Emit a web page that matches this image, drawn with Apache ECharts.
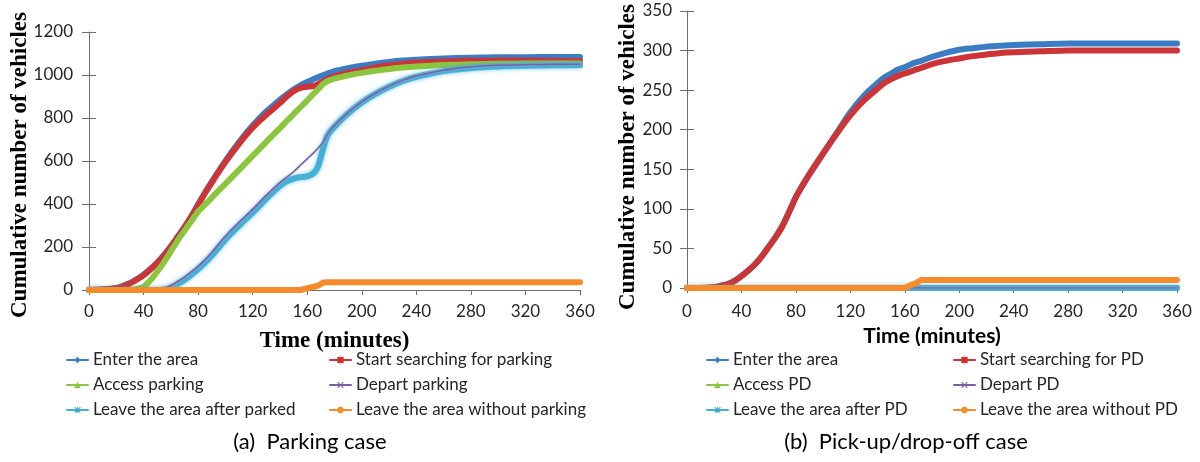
<!DOCTYPE html>
<html>
<head>
<meta charset="utf-8">
<script src="https://cdn.jsdelivr.net/npm/echarts@6/dist/echarts.min.js"></script>
<style>
  html, body { margin: 0; padding: 0; background: #fff; }
  #main { width: 1200px; height: 462px; }
</style>
</head>
<body>
<div id="main"></div>
<script>
// time samples (minutes) shared by most series
var times = [0, 10, 20, 25, 30, 35, 40, 45, 50, 55, 60, 65, 70, 75, 80, 85, 90, 100, 110, 120, 130, 140, 145, 150, 155, 160, 165, 168, 170, 172, 175, 180, 190, 200, 210, 220, 230, 240, 260, 280, 300, 320, 340, 360];
var xTicks = [0, 40, 80, 120, 160, 200, 240, 280, 320, 360];

// (a) parking case
var parkNames = ['Enter the area', 'Start searching for parking', 'Access parking', 'Depart parking', 'Leave the area after parked', 'Leave the area without parking'];
var parkEnter = [0, 3, 10, 20, 33, 50, 72, 98, 128, 163, 203, 248, 293, 343, 398, 452, 503, 600, 688, 765, 830, 885, 910, 933, 952, 968, 982, 990, 995, 1000, 1007, 1018, 1032, 1043, 1053, 1061, 1067, 1071, 1077, 1080, 1082, 1083, 1084, 1084];
var parkSearch = [0, 2, 8, 18, 30, 48, 68, 95, 125, 160, 200, 245, 290, 340, 395, 450, 500, 595, 680, 755, 815, 870, 900, 925, 940, 945, 950, 958, 965, 972, 982, 995, 1010, 1022, 1035, 1045, 1052, 1058, 1063, 1066, 1067, 1067, 1066, 1065];
var parkAccess = [0, 0, 0, 0, 0, 5, 15, 45, 85, 130, 180, 230, 275, 320, 365, 397, 430, 494, 559, 624, 689, 753, 786, 818, 850, 882, 915, 934, 947, 960, 972, 983, 998, 1010, 1020, 1028, 1035, 1040, 1046, 1050, 1052, 1053, 1054, 1054];
var parkDepart = [0, 0, 0, 0, 0, 0, 0, 0, 3, 8, 20, 40, 60, 85, 110, 140, 175, 250, 315, 375, 440, 500, 525, 550, 580, 610, 640, 660, 675, 690, 725, 765, 825, 875, 915, 948, 975, 995, 1022, 1038, 1045, 1048, 1050, 1050];
var parkLeaveAfter = [0, 0, 0, 0, 0, 0, 0, 0, 0, 3, 12, 28, 48, 72, 98, 128, 160, 235, 300, 360, 425, 485, 505, 518, 525, 528, 545, 575, 620, 665, 720, 760, 822, 872, 912, 945, 972, 992, 1018, 1033, 1040, 1043, 1045, 1046];
var parkLeaveWithout = [0, 0, 0, 0, 0, 0, 0, 0, 0, 0, 0, 0, 0, 0, 0, 0, 0, 0, 0, 0, 0, 0, 0, 0, 0, 8, 15, 20, 28, 35, 36, 36, 36, 36, 36, 36, 36, 36, 36, 36, 36, 36, 36, 36];

// (b) pick-up/drop-off case
var pdNames = ['Enter the area', 'Start searching for PD', 'Access PD', 'Depart PD', 'Leave the area after PD', 'Leave the area without PD'];
var pdEnter = [0, 0, 1, 3, 5, 9, 15, 22, 30, 40, 52, 64, 78, 96, 115, 130, 144, 170, 196, 222, 243, 259, 266, 271, 276, 279, 283, 285, 286, 287, 289, 292, 297, 301, 303, 305, 306, 307, 308, 309, 309, 309, 309, 309];
var pdSearch = [0, 0, 1, 3, 5, 9, 15, 22, 30, 40, 52, 64, 78, 96, 115, 130, 144, 170, 195, 218, 237, 252, 259, 264, 268, 271, 274, 276, 277, 278, 280, 283, 287, 290, 293, 295, 297, 298, 299, 300, 300, 300, 300, 300];
var pdLeaveWithout = [0, 0, 0, 0, 0, 0, 0, 0, 0, 0, 0, 0, 0, 0, 0, 0, 0, 0, 0, 0, 0, 0, 0, 0, 0, 0, 4, 6, 8, 10, 10, 10, 10, 10, 10, 10, 10, 10, 10, 10, 10, 10, 10, 10];
var flatTimes = [0, 360];
var pdAccess = [0, 0];
var pdDepart = [0, 0];
var pdLeaveAfter = [0, 0];

var colors = ['#3b7dc4', '#cc3438', '#8cc63f', '#7b5fa5', '#3aa9cf', '#f68b2c'];
var xMark = 'path://M0,1L1,0L5,4L9,0L10,1L6,5L10,9L9,10L5,6L1,10L0,9L4,5Z';
var starMark = 'path://M0,1L1,0L5,4L9,0L10,1L6,5L10,9L9,10L5,6L1,10L0,9L4,5Z M4.4,0L5.6,0L5.6,10L4.4,10Z M0,4.4L10,4.4L10,5.6L0,5.6Z';
var symbols = ['diamond', 'rect', 'triangle', xMark, starMark, 'circle'];

function pairs(xs, ys) {
  var out = [];
  for (var i = 0; i < xs.length; i++) out.push([xs[i], ys[i]]);
  return out;
}

function makeSeries(idx, name, k, xs, ys) {
  var s = {
    name: name,
    type: 'line',
    xAxisIndex: idx,
    yAxisIndex: idx * 2,
    data: pairs(xs, ys),
    symbol: symbols[k],
    symbolSize: 7,
    showSymbol: false,
    smooth: 0.25,
    z: 2,
    itemStyle: { color: colors[k] },
    lineStyle: { color: colors[k], width: 6, cap: 'round', join: 'round' }
  };
  if (k === 3) {
    s.z = 3;
    s.lineStyle.width = 1.5;
    s.lineStyle.shadowColor = 'rgba(175,160,215,0.8)';
    s.lineStyle.shadowBlur = 2;
  }
  if (k === 4) {
    s.lineStyle.width = 6;
    s.lineStyle.color = '#45b0d6';
    s.lineStyle.shadowColor = 'rgba(58,169,207,0.7)';
    s.lineStyle.shadowBlur = 4;
  }
  if (k === 5) { s.smooth = false; s.z = 4; }
  return s;
}

var series = [];
var parkData = [parkEnter, parkSearch, parkAccess, parkDepart, parkLeaveAfter, parkLeaveWithout];
for (var k = 0; k < 6; k++) series.push(makeSeries(0, parkNames[k], k, times, parkData[k]));
var pdData = [pdEnter, pdSearch, pdAccess, pdDepart, pdLeaveAfter, pdLeaveWithout];
var pdX = [times, times, flatTimes, flatTimes, flatTimes, times];
for (var k = 0; k < 6; k++) series.push(makeSeries(1, pdNames[k], k, pdX[k], pdData[k]));

var axisGray = '#6f6f6f';

function xAxisFor(idx, nameFont, nameGap, margin) {
  return {
    type: 'value', gridIndex: idx, min: 0, max: 360, interval: 40,
    name: 'Time (minutes)', nameLocation: 'middle', nameGap: nameGap,
    nameTextStyle: nameFont,
    axisLine: { lineStyle: { color: axisGray } },
    axisTick: { length: 5, lineStyle: { color: axisGray } },
    axisLabel: { fontFamily: 'Lato', fontSize: 17, color: '#262626', margin: margin,
      formatter: function (v) { return xTicks.indexOf(v) >= 0 ? String(v) : ''; } },
    splitLine: { show: false }
  };
}

function yAxesFor(idx, max, interval, margin) {
  return [{
    type: 'value', gridIndex: idx, min: 0, max: max, interval: interval,
    axisLine: { show: true, lineStyle: { color: axisGray } },
    axisTick: { show: true, length: 7, lineStyle: { color: axisGray } },
    axisLabel: { fontFamily: 'Lato', fontSize: 17, color: '#262626', margin: margin,
      formatter: function (v) { return String(v); } },
    splitLine: { show: false }
  }, {
    type: 'value', gridIndex: idx, min: 0, max: max, interval: interval, position: 'left',
    axisLine: { show: false },
    axisTick: { show: true, inside: true, length: 7, lineStyle: { color: axisGray } },
    axisLabel: { show: false },
    splitLine: { show: false }
  }];
}

function legendCol(left, names) {
  return {
    orient: 'vertical', left: left, top: 351, padding: 0,
    itemWidth: 21, itemHeight: 8, itemGap: 7,
    data: names, selectedMode: false,
    textStyle: { fontFamily: 'Lato', fontSize: 17, color: '#262626', lineHeight: 18 }
  };
}

var option = {
  animation: false,
  backgroundColor: '#ffffff',
  grid: [
    { left: 89, top: 32, width: 491, height: 258 },
    { left: 687, top: 11, width: 490, height: 277 }
  ],
  xAxis: [
    xAxisFor(0, { fontFamily: 'Liberation Serif', fontWeight: 'bold', fontSize: 23, color: '#000' }, 40, 13),
    xAxisFor(1, { fontFamily: 'Lato', fontWeight: 'bold', fontSize: 21, color: '#000' }, 38, 15)
  ],
  yAxis: yAxesFor(0, 1200, 200, 16).concat(yAxesFor(1, 350, 50, 15)),
  legend: [
    legendCol(66, [parkNames[0], parkNames[2], parkNames[4]]),
    legendCol(329, [parkNames[1], parkNames[3], parkNames[5]]),
    legendCol(706, [pdNames[0], pdNames[2], pdNames[4]]),
    legendCol(953, [pdNames[1], pdNames[3], pdNames[5]])
  ],
  graphic: [
    { type: 'text', x: 20, y: 165, rotation: Math.PI / 2,
      style: { text: 'Cumulative number of vehicles', align: 'center', verticalAlign: 'middle',
        font: 'bold 23px "Liberation Serif"', fill: '#000' } },
    { type: 'text', x: 628, y: 157, rotation: Math.PI / 2,
      style: { text: 'Cumulative number of vehicles', align: 'center', verticalAlign: 'middle',
        font: 'bold 23px "Liberation Serif"', fill: '#000' } },
    { type: 'text', x: 310, y: 442,
      style: { text: '(a)  Parking case', align: 'center', verticalAlign: 'middle',
        font: '22px Lato', fill: '#000' } },
    { type: 'text', x: 906, y: 442,
      style: { text: '(b)  Pick-up/drop-off case', align: 'center', verticalAlign: 'middle',
        font: '22px Lato', fill: '#000' } }
  ],
  series: series
};

var chart = echarts.init(document.getElementById('main'));
chart.setOption(option);
</script>
</body>
</html>
